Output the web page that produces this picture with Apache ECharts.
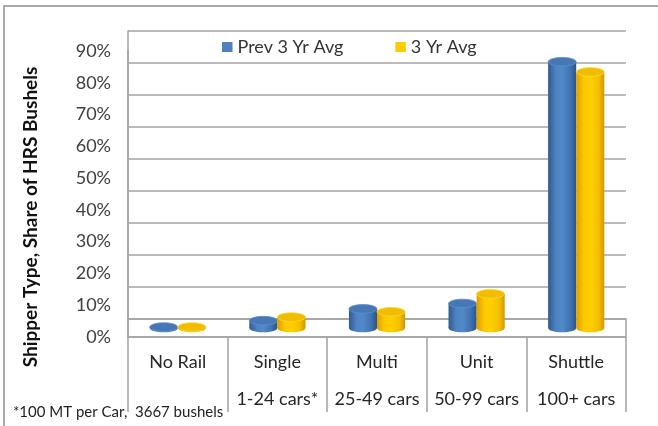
<!DOCTYPE html>
<html><head><meta charset="utf-8">
<script src="https://cdn.jsdelivr.net/npm/echarts@6.0.0/dist/echarts.min.js"></script>
<style>html,body{margin:0;padding:0;background:#fff}#c{width:658px;height:426px}</style>
</head><body><div id="c"></div>
<script>
const categories = ['No Rail', 'Single', 'Multi', 'Unit', 'Shuttle'];
const carRanges = ['', '1-24 cars*', '25-49 cars', '50-99 cars', '100+ cars'];
const seriesNames = ['Prev 3 Yr Avg', '3 Yr Avg'];
const prev3YrAvg = [0.3, 2.3, 6.0, 7.7, 83.5];
const threeYrAvg = [0.3, 3.4, 5.1, 10.7, 80.3];
const yMin = 0, yMax = 90, yStep = 10;
const footnote = '*100 MT per Car,  3667 bushels';
const axisTitle = 'Shipper Type, Share of HRS Bushels';

const FONT = 'Lato';
const LINE = '#a3a3a3';
const palettes = [
  { body: [{offset:0,color:'#2f5a8e'},{offset:0.28,color:'#4f84c4'},{offset:0.5,color:'#5289c9'},{offset:0.8,color:'#3f72b0'},{offset:1,color:'#2b5385'}],
    top: '#4778b5', rim: '#6190cc' },
  { body: [{offset:0,color:'#dc9f00'},{offset:0.28,color:'#ffc900'},{offset:0.5,color:'#ffd000'},{offset:0.8,color:'#f4bf00'},{offset:1,color:'#d39600'}],
    top: '#f0bd00', rim: '#ffd633' }
];

function makeRender(side, pal) {
  return function (params, api) {
    const ci = api.value(0), v = api.value(1);
    const topPt = api.coord([ci, v]);
    const basePt = api.coord([ci, 0]);
    const band = api.size([1, 0])[0];
    const w = band * 0.282, rx = w / 2, ry = 4.3;
    const cx = topPt[0] + side * rx;
    const grad = new echarts.graphic.LinearGradient(0, 0, 1, 0, pal.body);
    return { type: 'group', children: [
      { type: 'ellipse', shape: { cx: cx, cy: basePt[1], rx: rx, ry: ry }, style: { fill: grad } },
      { type: 'rect', shape: { x: cx - rx, y: topPt[1], width: w, height: basePt[1] - topPt[1] }, style: { fill: grad } },
      { type: 'ellipse', shape: { cx: cx, cy: topPt[1], rx: rx, ry: ry }, style: { fill: pal.top, stroke: pal.rim, lineWidth: 0.8 } }
    ]};
  };
}

const chart = echarts.init(document.getElementById('c'));
chart.setOption({
  animation: false,
  backgroundColor: '#fff',
  textStyle: { fontFamily: FONT },
  title: { text: footnote, left: 13, top: 405, padding: 0,
    textStyle: { fontFamily: FONT, fontSize: 15, fontWeight: 'normal', color: '#222' } },
  legend: { data: seriesNames, left: 222, top: 38, padding: 0, icon: 'rect',
    itemWidth: 10.5, itemHeight: 10, itemGap: 52,
    textStyle: { fontFamily: FONT, fontSize: 18, color: '#333' } },
  graphic: [
    { type: 'rect', shape: { x: 4, y: 6, width: 900, height: 700 }, style: { fill: 'none', stroke: '#8c8c8c', lineWidth: 1.5 }, silent: true },
    { type: 'text', x: 31, y: 217, rotation: Math.PI / 2,
      style: { text: axisTitle, fontFamily: FONT, fontSize: 19, fontWeight: 'bold', fill: '#111', align: 'center', verticalAlign: 'middle' } }
  ],
  grid: [
    { left: 128, top: 31, width: 498, height: 288 },
    { left: 128, top: 51, width: 498, height: 286 },
    { left: 128, top: 319, width: 498, height: 18, show: true, borderColor: LINE, borderWidth: 1.5, backgroundColor: 'transparent' },
    { left: 128, top: 41, width: 498, height: 287 }
  ],
  xAxis: [
    { gridIndex: 0, type: 'category', data: categories, show: false },
    { gridIndex: 1, type: 'category', data: categories, boundaryGap: true,
      axisLine: { show: true, lineStyle: { color: LINE, width: 1.5 } },
      axisTick: { show: true, interval: 0, length: 75, lineStyle: { color: LINE, width: 1.5 } },
      axisLabel: { interval: 0, margin: 6,
        formatter: function (v, i) { return '{a|' + v + '}\n{b|' + (carRanges[i] || ' ') + '}'; },
        rich: { a: { fontFamily: FONT, fontSize: 18, lineHeight: 37.6, color: '#262626' },
                b: { fontFamily: FONT, fontSize: 18, lineHeight: 37.6, color: '#262626' } } } },
    { gridIndex: 2, type: 'category', data: categories, show: false },
    { gridIndex: 3, type: 'category', data: categories, show: false }
  ],
  yAxis: [
    { gridIndex: 0, type: 'value', min: yMin, max: yMax, interval: yStep,
      axisLabel: { show: false }, axisTick: { show: false },
      axisLine: { show: true, lineStyle: { color: LINE, width: 1.5 } },
      splitLine: { show: true, lineStyle: { color: LINE, width: 1.5 } } },
    { gridIndex: 1, type: 'value', min: yMin, max: yMax, interval: yStep,
      axisLabel: { formatter: '{value}%', margin: 17, fontFamily: FONT, fontSize: 18, color: '#404040' },
      axisTick: { show: false }, splitLine: { show: false },
      axisLine: { show: true, lineStyle: { color: LINE, width: 1.5 } } },
    { gridIndex: 2, type: 'value', show: false },
    { gridIndex: 3, type: 'value', min: yMin, max: yMax, interval: yStep, show: false }
  ],
  series: [
    { type: 'custom', name: seriesNames[0], xAxisIndex: 3, yAxisIndex: 3,
      itemStyle: { color: '#4f81bd' }, renderItem: makeRender(-1, palettes[0]),
      data: prev3YrAvg.map(function (v, i) { return [i, v]; }) },
    { type: 'custom', name: seriesNames[1], xAxisIndex: 3, yAxisIndex: 3,
      itemStyle: { color: '#ffcc00' }, renderItem: makeRender(1, palettes[1]),
      data: threeYrAvg.map(function (v, i) { return [i, v]; }) }
  ]
});
</script></body></html>
